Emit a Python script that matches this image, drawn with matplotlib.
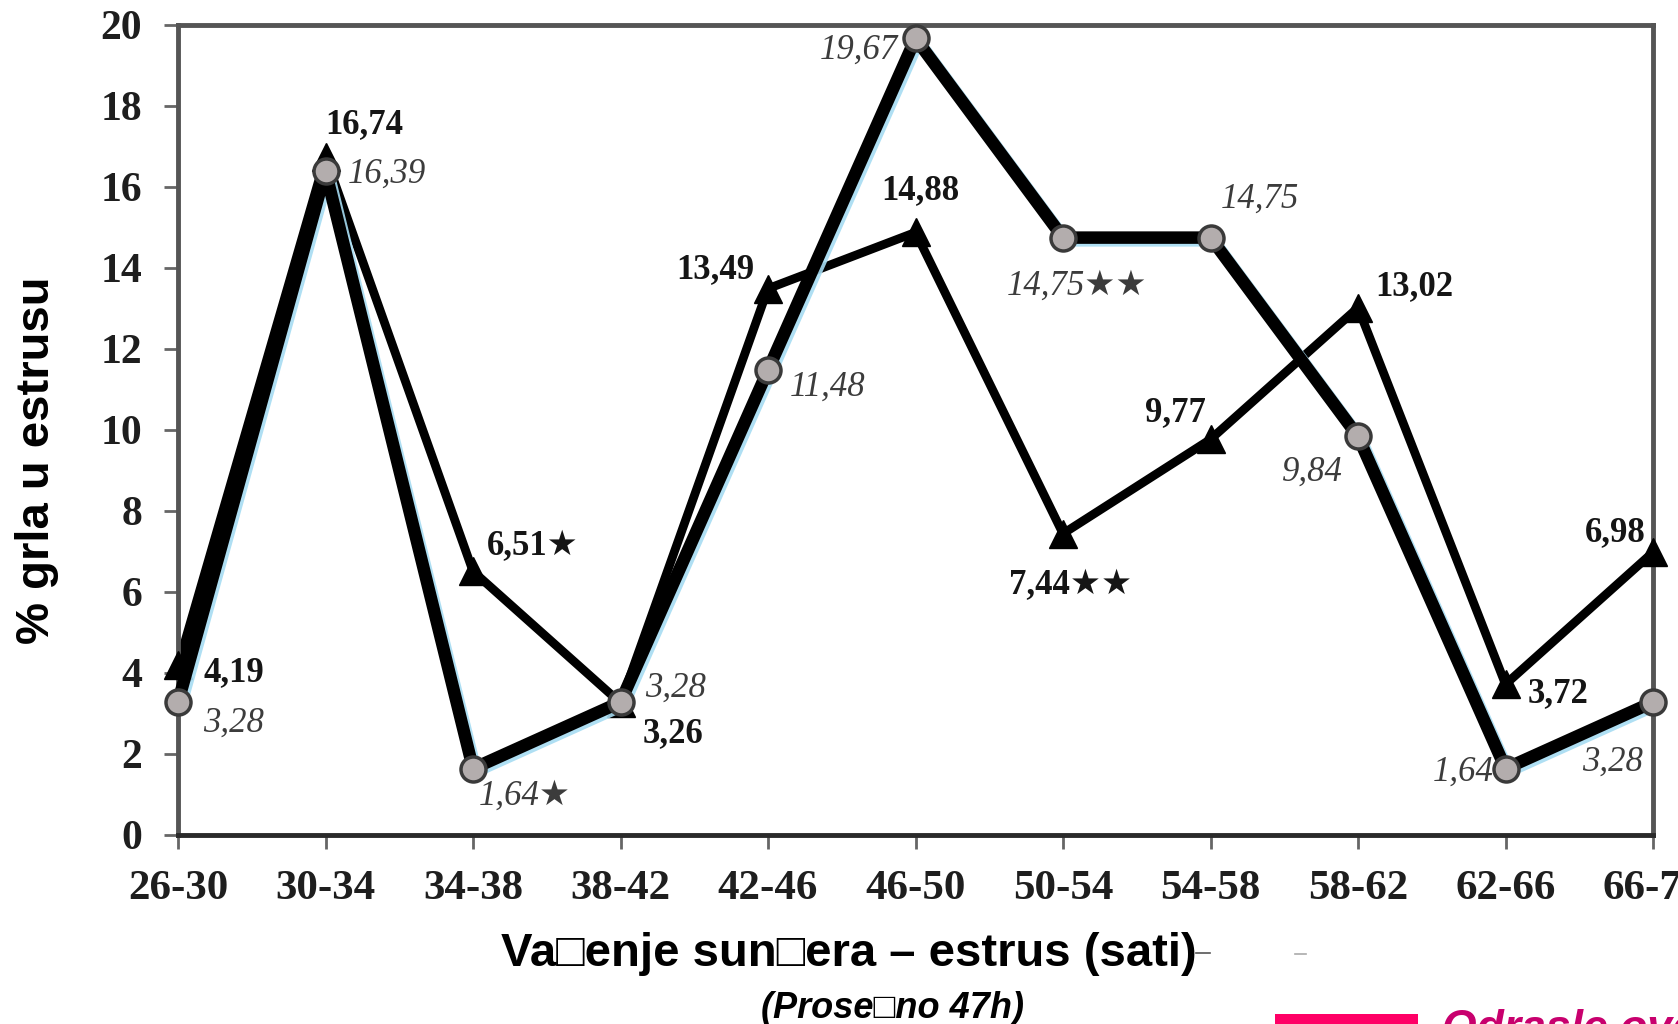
import matplotlib.pyplot as plt
import matplotlib.patheffects as pe
from matplotlib.lines import Line2D
from matplotlib.patches import Rectangle

intervals = ["26-30", "30-34", "34-38", "38-42", "42-46", "46-50",
             "50-54", "54-58", "58-62", "62-66", "66-70"]

# triangle series (bold labels)
tri_values = [4.19, 16.74, 6.51, 3.26, 13.49, 14.88, 7.44, 9.77, 13.02, 3.72, 6.98]
tri_marks = ["", "", "★", "", "", "", "★★", "", "", "", ""]

# circle series (italic labels)
circ_values = [3.28, 16.39, 1.64, 3.28, 11.48, 19.67, 14.75, 14.75, 9.84, 1.64, 3.28]
circ_marks = ["", "", "★", "", "", "", "★★", "", "", "", ""]

y_ticks = [0, 2, 4, 6, 8, 10, 12, 14, 16, 18, 20]

# label placement (offset pixels, horizontal alignment)
tri_offsets = [(25, -7, "left"), (0, 32, "left"), (14, 25, "left"), (22, -31, "left"),
               (-14, 19, "right"), (5, 42, "center"), (8, -52, "center"),
               (-5, 27, "right"), (17, 21, "left"), (22, -9, "left"), (-7, 20, "right")]
circ_offsets = [(25, -21, "left"), (22, -3, "left"), (6, -28, "left"), (25, 14, "left"),
                (22, -17, "left"), (-18, -12, "right"), (14, -49, "center"),
                (10, 38, "left"), (-15, -36, "right"), (-12, -4, "right"),
                (-10, -60, "right")]

serif = ["Liberation Serif", "DejaVu Sans"]
sans = ["Liberation Sans", "DejaVu Sans"]


def fmt(v):
    return f"{v:.2f}".replace(".", ",")


fig = plt.figure(figsize=(16.78, 10.24), dpi=100)
ax = fig.add_axes([0.1061, 0.1846, 0.879, 0.791])

x = list(range(len(intervals)))

ax.plot(x, tri_values, color="black", linewidth=6.3, zorder=2, clip_on=False)
ax.plot(x, tri_values, linestyle="none", marker="^", markersize=20,
        color="black", zorder=3, clip_on=False)

ax.plot(
    x,
    circ_values,
    color="black",
    linewidth=9,
    zorder=4,
    clip_on=False,
    path_effects=[
        pe.SimpleLineShadow(offset=(2, -2), shadow_color="#a6dcf2", alpha=0.9),
        pe.Normal(),
    ],
)
ax.plot(x, circ_values, linestyle="none", marker="o", markersize=18,
        markerfacecolor="#b3adad", markeredgecolor="#3a3a3a",
        markeredgewidth=2.5, zorder=5, clip_on=False)

for i, v in enumerate(tri_values):
    dx, dy, ha = tri_offsets[i]
    ax.annotate(fmt(v) + tri_marks[i], (i, v), xytext=(dx, dy),
                textcoords="offset pixels", ha=ha, va="center",
                fontsize=25, fontweight="bold", family=serif,
                color="#151515", zorder=6, annotation_clip=False)

for i, v in enumerate(circ_values):
    dx, dy, ha = circ_offsets[i]
    ax.annotate(fmt(v) + circ_marks[i], (i, v), xytext=(dx, dy),
                textcoords="offset pixels", ha=ha, va="center",
                fontsize=25, fontstyle="italic", family=serif,
                color="#3c3c3c", zorder=6, annotation_clip=False)

ax.set_xlim(0, 10)
ax.set_ylim(0, 20)
ax.set_xticks(x)
ax.set_xticklabels(intervals)
ax.set_yticks(y_ticks)

for lab in ax.get_xticklabels():
    lab.set_family(serif)
    lab.set_fontsize(31)
    lab.set_fontweight("bold")
    lab.set_color("#1e1e1e")

for lab in ax.get_yticklabels():
    lab.set_family(serif)
    lab.set_fontsize(30)
    lab.set_fontweight("bold")
    lab.set_color("#1e1e1e")

ax.tick_params(axis="y", direction="out", length=10, width=2, color="#666666", pad=16)
ax.tick_params(axis="x", direction="out", length=10, width=2, color="#666666", pad=15)

for side in ["top", "left", "right"]:
    ax.spines[side].set_color("#555555")
    ax.spines[side].set_linewidth(3.5)
ax.spines["bottom"].set_color("#2a2a2a")
ax.spines["bottom"].set_linewidth(3.5)

fig.text(0.022, 0.551, "% grla u estrusu", rotation=90, ha="center", va="center",
         fontsize=34, fontweight="bold", family=sans)

fig.text(0.506, 0.068, "Va\u25a1enje sun\u25a1era \u2013 estrus (sati)",
         ha="center", va="center", fontsize=34, fontweight="bold", family=sans)

fig.text(0.532, 0.015, "(Prose\u25a1no 47h)", ha="center", va="center",
         fontsize=26, fontweight="bold", fontstyle="italic", family=sans)

# small stray dashes near the axis title
fig.add_artist(Line2D([1196 / 1678, 1210 / 1678], [1 - 953 / 1024] * 2,
                      color="#555555", linewidth=1.2))
fig.add_artist(Line2D([1295 / 1678, 1306 / 1678], [1 - 954 / 1024] * 2,
                      color="#aaaaaa", linewidth=1.2))

# legend entry cut by the bottom edge
fig.add_artist(Rectangle((1275 / 1678, 0), 143 / 1678, 10 / 1024,
                         transform=fig.transFigure, color="#ff0066", lw=0))
fig.text(1442 / 1678, 1 - 1009 / 1024, "Odrasle ovce", ha="left", va="top",
         fontsize=32, fontweight="bold", fontstyle="italic", family=sans,
         color="#c8006e")

fig.savefig("out.png", dpi=100)
